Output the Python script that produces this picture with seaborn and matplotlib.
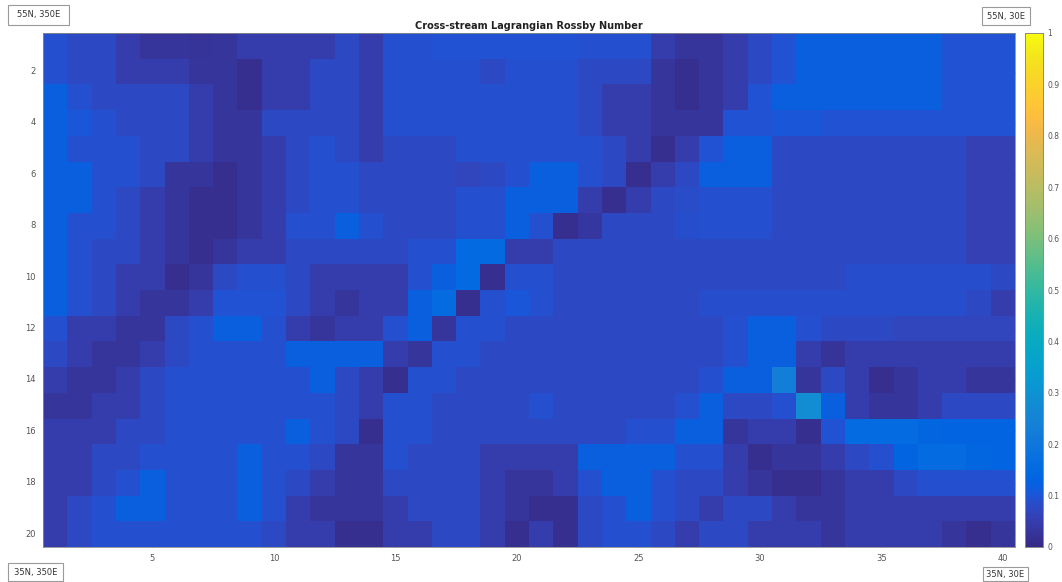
import numpy as np
import pandas as pd
import matplotlib
matplotlib.use("Agg")
import matplotlib.pyplot as plt
from matplotlib.colors import LinearSegmentedColormap
from matplotlib.patches import Rectangle
import seaborn as sns

# ---------------- data (rows 1..20 top to bottom, columns 1..40) ----------------
r01 = [.092,.075,.075,.048,.03,.03,.025,.03,.048,.048,.048,.048,.075, .048,.092,.092,.095,.095,.095,.095,.095,.095,.092,.092,.092,.048,.03, .03,.048,.075,.095,.12,.12,.12,.12,.12,.12,.095,.095,.095]
r02 = [.092,.075,.075,.048,.048,.048,.03,.03,.015,.048,.048,.075,.075, .048,.092,.092,.092,.092,.075,.092,.092,.092,.075,.075,.075,.03,.015, .03,.048,.075,.095,.12,.12,.12,.12,.12,.12,.095,.095,.095]
r03 = [.12,.092,.075,.075,.075,.075,.048,.03,.015,.048,.048,.075,.075, .048,.092,.092,.092,.092,.092,.092,.092,.092,.075,.048,.048,.03,.015, .03,.048,.095,.12,.12,.12,.12,.12,.12,.12,.095,.095,.095]
r04 = [.12,.105,.092,.075,.075,.075,.048,.03,.03,.075,.075,.075,.075, .048,.092,.092,.092,.092,.092,.092,.092,.092,.075,.048,.048,.03,.03, .03,.095,.095,.105,.105,.095,.095,.095,.095,.095,.095,.095,.095]
r05 = [.12,.092,.092,.092,.075,.075,.048,.03,.03,.048,.075,.092,.075, .048,.075,.075,.075,.092,.092,.092,.092,.092,.092,.075,.048,.015,.048, .095,.12,.12,.078,.078,.078,.078,.078,.078,.078,.078,.055,.055]
r06 = [.12,.12,.092,.092,.075,.03,.03,.015,.03,.048,.075,.092,.092, .075,.075,.075,.075,.068,.075,.092,.12,.12,.092,.075,.015,.048,.075, .12,.12,.12,.078,.078,.078,.078,.078,.078,.078,.078,.055,.055]
r07 = [.12,.12,.092,.075,.048,.03,.015,.015,.03,.048,.075,.092,.092, .075,.075,.075,.075,.092,.092,.12,.12,.12,.048,.015,.048,.075,.085, .092,.092,.092,.078,.078,.078,.078,.078,.078,.078,.078,.055,.055]
r08 = [.12,.092,.092,.075,.048,.03,.015,.015,.03,.048,.092,.092,.12, .092,.075,.075,.075,.092,.092,.12,.092,.015,.035,.075,.075,.075,.088, .092,.092,.092,.078,.078,.078,.078,.078,.078,.078,.078,.055,.055]
r09 = [.12,.092,.075,.075,.048,.03,.015,.03,.048,.048,.075,.075,.075, .075,.075,.092,.092,.15,.15,.048,.048,.075,.075,.075,.075,.075,.075, .075,.075,.075,.075,.075,.075,.075,.075,.075,.075,.075,.055,.055]
r10 = [.12,.092,.075,.048,.048,.015,.03,.075,.092,.092,.075,.048,.048, .048,.048,.092,.12,.15,.015,.092,.092,.075,.075,.075,.075,.075,.075, .075,.075,.075,.075,.075,.075,.088,.088,.088,.088,.088,.088,.075]
r11 = [.12,.092,.075,.048,.03,.03,.048,.095,.095,.095,.075,.048,.03, .048,.048,.12,.16,.015,.092,.105,.092,.075,.075,.075,.075,.075,.075, .088,.088,.088,.088,.088,.088,.088,.088,.088,.088,.088,.075,.048]
r12 = [.092,.048,.048,.03,.03,.075,.092,.12,.12,.092,.048,.03,.048, .048,.092,.12,.03,.092,.092,.075,.075,.075,.075,.075,.075,.075,.075, .075,.092,.12,.12,.092,.075,.075,.075,.068,.068,.068,.068,.068]
r13 = [.075,.048,.03,.03,.048,.075,.092,.092,.092,.092,.12,.12,.12, .12,.048,.03,.092,.092,.075,.075,.075,.075,.075,.075,.075,.075,.075, .075,.092,.12,.12,.048,.025,.048,.048,.048,.048,.048,.048,.048]
r14 = [.048,.03,.03,.048,.075,.092,.092,.092,.092,.092,.092,.12,.075, .048,.015,.092,.092,.075,.075,.075,.075,.075,.075,.075,.075,.075,.075, .092,.12,.12,.23,.03,.075,.048,.015,.03,.048,.048,.03,.03]
r15 = [.03,.03,.048,.048,.075,.092,.092,.092,.092,.092,.092,.092,.075, .048,.092,.092,.075,.075,.075,.075,.092,.075,.075,.075,.075,.075,.092, .12,.075,.075,.092,.28,.12,.048,.03,.03,.048,.075,.075,.075]
r16 = [.048,.048,.048,.075,.075,.092,.092,.092,.092,.092,.12,.092,.075, .015,.092,.092,.075,.075,.075,.075,.075,.075,.075,.075,.092,.092,.12, .12,.03,.048,.048,.015,.095,.16,.16,.16,.14,.13,.13,.13]
r17 = [.048,.048,.075,.075,.092,.092,.092,.092,.12,.092,.092,.075,.03, .03,.092,.075,.075,.075,.048,.048,.048,.048,.12,.12,.12,.12,.092, .092,.048,.015,.03,.03,.048,.075,.092,.13,.16,.16,.14,.13]
r18 = [.048,.048,.075,.092,.12,.092,.092,.092,.12,.092,.075,.048,.03, .03,.075,.075,.075,.075,.048,.03,.03,.048,.092,.12,.12,.092,.075, .075,.048,.03,.015,.015,.03,.048,.048,.075,.092,.092,.092,.092]
r19 = [.048,.075,.092,.12,.12,.092,.092,.092,.12,.092,.048,.03,.03, .03,.048,.075,.075,.075,.048,.03,.015,.015,.075,.092,.12,.092,.075, .048,.075,.075,.048,.03,.03,.048,.048,.048,.048,.048,.048,.048]
r20 = [.048,.075,.092,.092,.092,.092,.092,.092,.092,.075,.048,.048,.015, .015,.048,.048,.075,.075,.048,.015,.048,.015,.075,.092,.092,.075,.048, .075,.075,.048,.048,.048,.03,.048,.048,.048,.048,.03,.015,.03]

rows = [r01, r02, r03, r04, r05, r06, r07, r08, r09, r10,
        r11, r12, r13, r14, r15, r16, r17, r18, r19, r20]
row_index = list(range(1, 21))
col_index = list(range(1, 41))
x_ticks = [5, 10, 15, 20, 25, 30, 35, 40]
y_ticks = [2, 4, 6, 8, 10, 12, 14, 16, 18, 20]
cbar_ticks = [0, 0.1, 0.2, 0.3, 0.4, 0.5, 0.6, 0.7, 0.8, 0.9, 1]
cbar_labels = ["0", "0.1", "0.2", "0.3", "0.4", "0.5", "0.6", "0.7", "0.8", "0.9", "1"]
title = "Cross-stream Lagrangian Rossby Number"
corner_labels = ["55N, 350E", "55N, 30E", "35N, 350E", "35N, 30E"]

# ---------------- parula colormap ----------------
parula_rgb = [
    (0.2081, 0.1663, 0.5292), (0.2116, 0.1898, 0.5777), (0.2123, 0.2138, 0.6270), (0.2081, 0.2386, 0.6771),
    (0.1959, 0.2645, 0.7279), (0.1707, 0.2919, 0.7792), (0.1253, 0.3242, 0.8303), (0.0591, 0.3598, 0.8683),
    (0.0117, 0.3875, 0.8820), (0.0060, 0.4086, 0.8828), (0.0165, 0.4266, 0.8786), (0.0329, 0.4430, 0.8720),
    (0.0498, 0.4586, 0.8641), (0.0629, 0.4737, 0.8554), (0.0723, 0.4887, 0.8467), (0.0779, 0.5040, 0.8384),
    (0.0793, 0.5200, 0.8312), (0.0749, 0.5375, 0.8263), (0.0641, 0.5570, 0.8240), (0.0488, 0.5772, 0.8228),
    (0.0343, 0.5966, 0.8199), (0.0265, 0.6137, 0.8135), (0.0239, 0.6287, 0.8038), (0.0231, 0.6418, 0.7913),
    (0.0228, 0.6535, 0.7768), (0.0267, 0.6642, 0.7607), (0.0384, 0.6743, 0.7436), (0.0590, 0.6838, 0.7254),
    (0.0843, 0.6928, 0.7062), (0.1133, 0.7015, 0.6859), (0.1453, 0.7098, 0.6646), (0.1801, 0.7177, 0.6424),
    (0.2178, 0.7250, 0.6193), (0.2586, 0.7317, 0.5954), (0.3022, 0.7376, 0.5712), (0.3482, 0.7424, 0.5473),
    (0.3953, 0.7459, 0.5244), (0.4420, 0.7481, 0.5033), (0.4871, 0.7491, 0.4840), (0.5300, 0.7491, 0.4661),
    (0.5709, 0.7485, 0.4494), (0.6099, 0.7473, 0.4337), (0.6473, 0.7456, 0.4188), (0.6834, 0.7435, 0.4044),
    (0.7184, 0.7411, 0.3905), (0.7525, 0.7384, 0.3768), (0.7858, 0.7356, 0.3633), (0.8185, 0.7327, 0.3498),
    (0.8507, 0.7299, 0.3360), (0.8824, 0.7274, 0.3217), (0.9139, 0.7258, 0.3063), (0.9450, 0.7261, 0.2886),
    (0.9739, 0.7314, 0.2666), (0.9938, 0.7455, 0.2403), (0.9990, 0.7653, 0.2164), (0.9955, 0.7861, 0.1967),
    (0.9880, 0.8066, 0.1794), (0.9789, 0.8271, 0.1633), (0.9697, 0.8481, 0.1475), (0.9626, 0.8705, 0.1309),
    (0.9589, 0.8949, 0.1132), (0.9598, 0.9218, 0.0948), (0.9661, 0.9514, 0.0755), (0.9763, 0.9831, 0.0538),
]
parula = LinearSegmentedColormap.from_list("parula", parula_rgb, N=256)

# ---------------- figure ----------------
sns.set_theme(style="white")
plt.rcParams["font.family"] = ["DejaVu Sans"]

W, H = 1062, 582
fig = plt.figure(figsize=(W / 100, H / 100), dpi=100)
fig.patch.set_facecolor("white")

def box(l, t, r, b):
    return [l / W, 1 - b / H, (r - l) / W, (b - t) / H]

ax = fig.add_axes(box(43, 33, 1015, 547))
cax = fig.add_axes(box(1025, 33, 1043, 547))

df = pd.DataFrame(np.array(rows), index=row_index, columns=col_index)
sns.heatmap(df, ax=ax, cmap=parula, vmin=0, vmax=1, cbar_ax=cax,
            cbar_kws={"ticks": cbar_ticks}, linewidths=0)

tick_col = "#555555"
ax.set_xticks([c - 0.5 for c in x_ticks])
ax.set_xticklabels([str(c) for c in x_ticks], rotation=0)
ax.set_yticks([r - 0.5 for r in y_ticks])
ax.set_yticklabels([str(r) for r in y_ticks], rotation=0)
ax.set_xlabel("")
ax.set_ylabel("")
ax.tick_params(axis="both", direction="in", length=4, width=0.6, color="#333333",
               labelsize=6, labelcolor=tick_col, top=True, right=True,
               bottom=True, left=True, pad=5)
for s in ax.spines.values():
    s.set_visible(True)
    s.set_color("#8a8a8a")
    s.set_linewidth(0.6)

ax.set_title(title, fontsize=7, fontweight="bold", color="#222222", pad=3)

cax.set_yticklabels(cbar_labels)
cax.tick_params(axis="y", direction="in", length=3, width=0.5, color="#333333",
                labelsize=5.5, labelcolor=tick_col, pad=3, right=True, left=False)
for s in cax.spines.values():
    s.set_visible(True)
    s.set_color("#8a8a8a")
    s.set_linewidth(0.6)

# corner annotation boxes (pixel rectangles: left, top, right, bottom)
corner_boxes = [(8, 5, 69, 25), (982, 7, 1030, 25), (8, 563, 63, 581), (983, 567, 1028, 581)]
for label, (l, t, r, b) in zip(corner_labels, corner_boxes):
    fig.patches.append(Rectangle((l / W, 1 - b / H), (r - l) / W, (b - t) / H,
                                 transform=fig.transFigure, facecolor="white",
                                 edgecolor="#9a9a9a", linewidth=0.8))
    fig.text((l + r) / 2 / W, 1 - (t + b) / 2 / H, label, fontsize=6, ha="center",
             va="center", color="#333333")

fig.savefig("out.png", dpi=100, facecolor="white")
